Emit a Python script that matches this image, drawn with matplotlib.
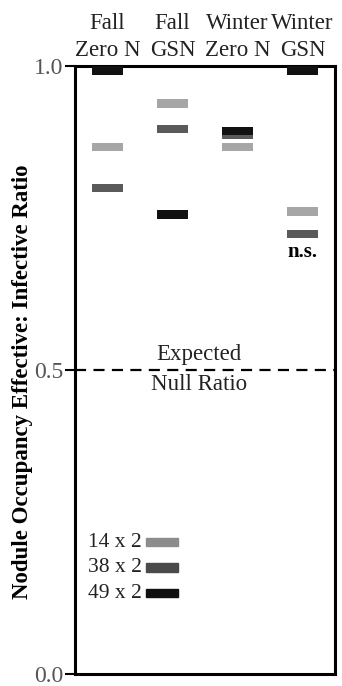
import matplotlib.pyplot as plt
from matplotlib.patches import Rectangle

plt.rcParams['font.family'] = ['Liberation Serif', 'DejaVu Serif']

# treatments and occupancy ratios per strain (14 x 2, 38 x 2, 49 x 2)
treatments = ["Fall\nZero N", "Fall\nGSN", "Winter\nZero N", "Winter\nGSN"]
strains = ["14 x 2", "38 x 2", "49 x 2"]
ratio_14 = [0.867, 0.938, 0.867, 0.761]
ratio_38 = [0.799, 0.896, 0.887, 0.724]
ratio_49 = [0.993, 0.756, 0.893, 0.993]
null_ratio = 0.5

bar_colors = ["#a6a6a6", "#5a5a5a", "#111111"]
key_colors = ["#8c8c8c", "#4a4a4a", "#111111"]
bar_h = 0.014
bar_w = 0.48

fig = plt.figure(figsize=(3.42, 6.86), dpi=100)
ax = fig.add_axes([0.219, 0.0175, 0.761, 0.8863])

xs = [1, 2, 3, 4]
for vals, col in zip([ratio_14, ratio_38, ratio_49], bar_colors):
    ax.bar(xs, [bar_h] * len(vals), bottom=[v - bar_h / 2 for v in vals],
           width=bar_w, color=col, zorder=3)

# expected null ratio
ax.axhline(null_ratio, color="black", lw=1.6, ls=(0, (5, 3.3)), zorder=2)
ax.text(2.41, null_ratio + 0.009, "Expected", ha="center", va="bottom",
        fontsize=16.5, color="#222222")
ax.text(2.41, null_ratio - 0.007, "Null Ratio", ha="center", va="top",
        fontsize=16.5, color="#222222")

ax.text(4, ratio_38[3] - 0.013, "n.s.", ha="center", va="top",
        fontsize=15, fontweight="bold")

# strain key
key_y = [0.217, 0.175, 0.133]
for lbl, col, ky in zip(strains, key_colors, key_y):
    ax.add_patch(Rectangle((0.273, ky - bar_h / 2), 0.123, bar_h,
                           transform=ax.get_yaxis_transform(), color=col, zorder=3))
    ax.text(0.258, ky, lbl, transform=ax.get_yaxis_transform(), ha="right",
            va="center", fontsize=15.5, color="#222222")

# treatment headers above the plot
for x, t in zip(xs, treatments):
    ax.text(x, 1.008, t, ha="center", va="bottom", fontsize=16.5,
            linespacing=1.38, color="#222222")

ax.set_xlim(0.5, 4.5)
ax.set_ylim(0, 1.0)
ax.set_xticks([])
ax.set_yticks([0.0, 0.5, 1.0])
ax.set_yticklabels(["0.0", "0.5", "1.0"], fontsize=17, color="#555555")
ax.tick_params(axis="y", length=7, width=1.5, pad=1)
for s in ax.spines.values():
    s.set_linewidth(2.2)

ax.set_ylabel("Nodule Occupancy Effective: Infective Ratio", fontsize=16.5,
              fontweight="bold")
ax.yaxis.set_label_coords(-0.16, 0.48)

fig.savefig("out.png", dpi=100)
